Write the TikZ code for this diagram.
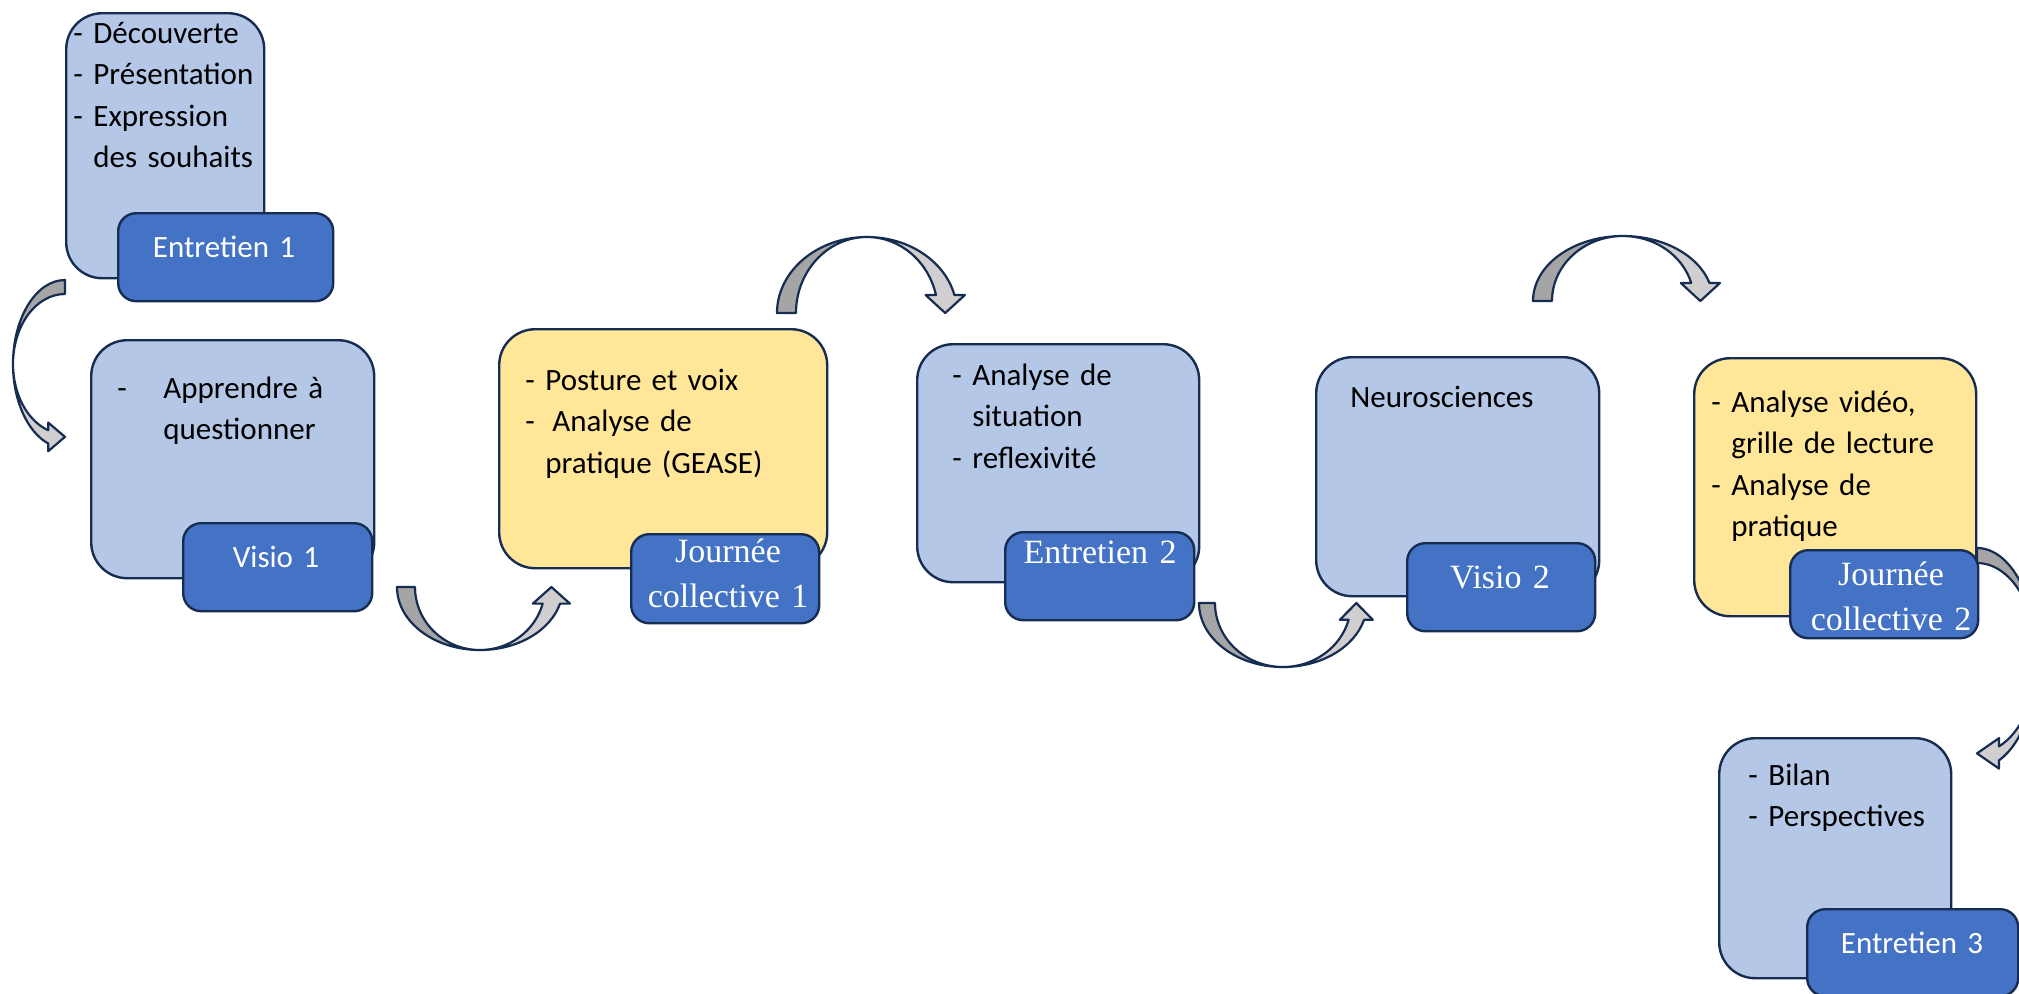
\documentclass[tikz,border=0pt]{standalone}
\usepackage{fontspec}
\setmainfont{Carlito}
\newfontfamily\serifface{Liberation Serif}
\definecolor{boxblue}{HTML}{B4C7E7}
\definecolor{tagblue}{HTML}{4472C4}
\definecolor{boxyellow}{HTML}{FFE699}
\definecolor{edge}{HTML}{172C51}
\definecolor{arcdark}{HTML}{A5A5A5}
\definecolor{arclight}{HTML}{D0CECE}
\newcommand{\tiret}{\makebox[10pt][l]{-}}
% curved block arrow: #1 transform, #2 half span, #3 height, #4 band width
\newcommand{\blockarc}[4]{%
  \pgfmathsetmacro{\arcin}{#2-#4}%
  \pgfmathsetmacro{\archd}{0.2*#2}%
  \pgfmathsetmacro{\arcang}{asin(\archd/#3)}%
  \pgfmathsetmacro{\arcxo}{#2*cos(\arcang)}%
  \pgfmathsetmacro{\arcxi}{\arcin*cos(\arcang)}%
  \pgfmathsetmacro{\arcov}{0.55*#4}%
  \begin{scope}[#1]
    \filldraw[arcband, fill=arcdark] (-#2,0) arc[start angle=180, end angle=90, x radius=#2, y radius=#3]
      arc[start angle=90, end angle=180, x radius=\arcin, y radius=#3] -- cycle;
    \filldraw[arcband, fill=arclight] (0,#3) arc[start angle=90, end angle=\arcang, x radius=#2, y radius=#3]
      -- (\arcxo+\arcov,\archd) -- ({(\arcxo+\arcxi)/2},0) -- (\arcxi-\arcov,\archd) -- (\arcxi,\archd)
      arc[start angle=\arcang, end angle=90, x radius=\arcin, y radius=#3] -- cycle;
  \end{scope}}
\tikzset{
  stagebox/.style={draw=edge, line width=1.2pt, rounded corners=18pt, anchor=north west, inner sep=0pt},
  tagbox/.style={draw=edge, line width=1.2pt, fill=tagblue, rounded corners=9pt, anchor=north west,
    inner sep=0pt, minimum width=94pt, minimum height=44pt},
  notetxt/.style={anchor=base west, inner sep=0pt, text width=150pt, align=left,
    font=\fontsize{15.5}{20.75}\selectfont},
  tagtxt/.style={anchor=base, inner sep=0pt, text=white, text width=110pt, align=center,
    font=\fontsize{15.5}{20.75}\selectfont},
  tagserif/.style={tagtxt, font=\serifface\fontsize{17}{22.5}\selectfont},
  arcband/.style={draw=edge, line width=1.1pt, line join=round}
}
\begin{document}
\begin{tikzpicture}[x=0.5pt, y=-0.5pt]
    \useasboundingbox (0,0) rectangle (2019,993);
    \clip (0,0) rectangle (2019,993);
    %arrows between the stages
    \blockarc{shift={(65,364)}, rotate=-90}{84}{52}{14}
    \blockarc{shift={(480,587)}}{83}{63}{18}
    \blockarc{shift={(867,313)}, yscale=-1}{90}{76}{19}
    \blockarc{shift={(1283,603)}}{84}{64}{16}
    \blockarc{shift={(1623,301)}, yscale=-1}{90}{65}{19}
    \blockarc{shift={(1977,658)}, xscale=-1, rotate=-90}{110}{60}{15}
    %entretien 1
    \node[stagebox, fill=boxblue, minimum width=99pt, minimum height=132.5pt] (dec) at (65,12) {};
    \node[tagbox, minimum width=107.5pt] (ent1) at (117,212) {};
    \node[notetxt] (decT) at (73,43) {\tiret Découverte\\ \tiret Présentation\\ \tiret Expression\\ \hspace*{10pt}des souhaits};
    \node[tagtxt] (ent1T) at (224,257) {Entretien 1};
    %visio 1
    \node[stagebox, fill=boxblue, minimum width=141.5pt, minimum height=119pt] (app) at (90,339) {};
    \node[tagbox, minimum width=94.5pt] (vis1) at (182,522) {};
    \node[notetxt] (appT) at (117,398) {\makebox[23pt][l]{-}Apprendre à\\ \hspace*{23pt}questionner};
    \node[tagtxt] (vis1T) at (276,567) {Visio 1};
    %journee collective 1
    \node[stagebox, fill=boxyellow, minimum width=164pt, minimum height=119.5pt] (pos) at (498,328) {};
    \node[tagbox, minimum height=44.5pt] (jc1) at (630,533) {};
    \node[notetxt] (posT) at (525,390) {\tiret Posture et voix\\ \tiret\hspace{3.5pt}Analyse de\\ \hspace*{10pt}pratique (GEASE)};
    \node[tagserif] (jc1T) at (728,562) {Journée\\collective 1};
    %entretien 2
    \node[stagebox, fill=boxblue, minimum width=141pt, minimum height=119pt] (sit) at (916,343) {};
    \node[tagbox, minimum width=94.5pt] (ent2) at (1004,531) {};
    \node[notetxt] (sitT) at (952,385) {\tiret Analyse de\\ \hspace*{10pt}situation\\ \tiret reflexivité};
    \node[tagserif] (ent2T) at (1100,563) {Entretien 2};
    %visio 2
    \node[stagebox, fill=boxblue, minimum width=141.5pt, minimum height=119.5pt] (neu) at (1315,356) {};
    \node[tagbox] (vis2) at (1406,542) {};
    \node[notetxt] (neuT) at (1350,407) {Neurosciences};
    \node[tagserif] (vis2T) at (1500,588) {Visio 2};
    %journee collective 2
    \node[stagebox, fill=boxyellow, minimum width=141pt, minimum height=129pt] (vid) at (1693,357) {};
    \node[tagbox] (jc2) at (1789,549) {};
    \node[notetxt] (vidT) at (1711,412) {\tiret Analyse vidéo,\\ \hspace*{10pt}grille de lecture\\ \tiret Analyse de\\ \hspace*{10pt}pratique};
    \node[tagserif] (jc2T) at (1891,585) {Journée\\collective 2};
    %entretien 3
    \node[stagebox, fill=boxblue, minimum width=116pt, minimum height=120pt] (bil) at (1718,737) {};
    \node[tagbox, minimum width=105.5pt, minimum height=43.5pt] (ent3) at (1806,908) {};
    \node[notetxt] (bilT) at (1748,785) {\tiret Bilan\\ \tiret Perspectives};
    \node[tagtxt] (ent3T) at (1912,953) {Entretien 3};
\end{tikzpicture}
\end{document}
